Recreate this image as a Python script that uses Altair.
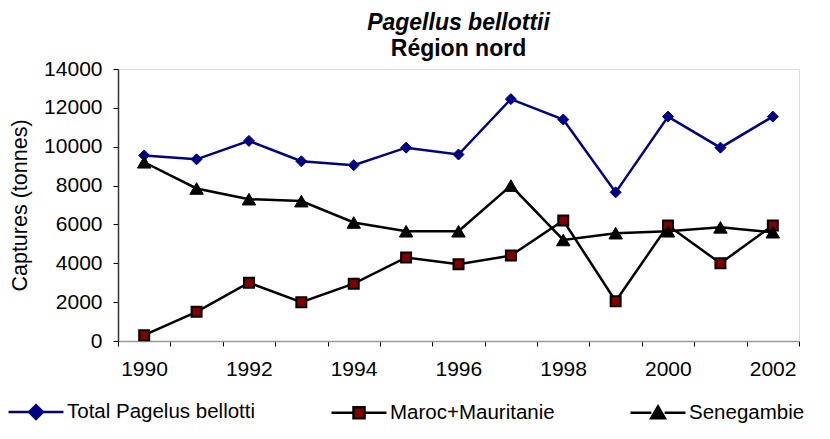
import altair as alt
import pandas as pd

years = list(range(1990, 2003))
series_names = ["Total Pagelus bellotti", "Maroc+Mauritanie", "Senegambie"]
total = [9550, 9350, 10300, 9250, 9050, 9950, 9600, 12450, 11400, 7650, 11550, 9950, 11550]
maroc = [300, 1500, 3000, 2000, 2950, 4300, 3950, 4400, 6200, 2050, 5950, 4000, 5950]
senegambie = [9200, 7850, 7300, 7200, 6100, 5650, 5650, 8000, 5200, 5550, 5650, 5850, 5600]
y_ticks = [0, 2000, 4000, 6000, 8000, 10000, 12000, 14000]
x_ticks = [y - 0.5 for y in range(1990, 2004)]

values = [total, maroc, senegambie]
rows = []
for name, vals in zip(series_names, values):
    for yr, v in zip(years, vals):
        rows.append({"year": yr, "value": v, "series": name})
df = pd.DataFrame(rows)

FONT = "Liberation Sans"
line_colors = ["#000080", "#000000", "#000000"]
fill_colors = ["#000080", "#800000", "#000000"]
stroke_colors = ["#000080", "#000000", "#000000"]
shapes = ["diamond", "square", "triangle-up"]
sizes = [121, 100, 180]
stroke_widths = [1, 2, 1]
legend_paths = [
    "M-1,0H-0.24M0.24,0H1M0,-0.25L0.25,0L0,0.25L-0.25,0Z",
    "M-1,0H-0.2M0.2,0H1M-0.2,-0.2H0.2V0.2H-0.2Z",
    "M-1,0H-0.24M0.24,0H1M0,-0.23L0.25,0.2L-0.25,0.2Z",
]

x_enc = alt.X(
    "year:Q",
    scale=alt.Scale(domain=[1989.5, 2002.5], nice=False, zero=False),
    axis=alt.Axis(
        values=x_ticks,
        labelExpr="(datum.value + 0.5) % 2 == 0 ? format(datum.value + 0.5, 'd') : ''",
        labelOffset=26,
        labelFlush=False,
        labelOverlap=False,
        labelBound=False,
        grid=False,
        title=None,
        tickSize=5,
        tickColor="#000000",
        domainColor="#999999",
        domainWidth=1.5,
        labelPadding=12,
        labelFontSize=21,
        labelFont=FONT,
        labelColor="#000000",
    ),
)
y_enc = alt.Y(
    "value:Q",
    scale=alt.Scale(domain=[0, 14000], nice=False),
    axis=alt.Axis(
        values=y_ticks,
        format="d",
        grid=False,
        title="Captures (tonnes)",
        titleFont=FONT,
        titleFontSize=21.5,
        titleFontWeight="normal",
        titleColor="#000000",
        titlePadding=12,
        tickSize=5,
        tickColor="#000000",
        domainColor="#333333",
        domainWidth=1.5,
        labelPadding=11,
        labelFontSize=21,
        labelFont=FONT,
        labelColor="#000000",
    ),
)

layers = []
for i, name in enumerate(series_names):
    base = alt.Chart(df).transform_filter(alt.datum.series == name)
    layers.append(
        base.mark_line(color=line_colors[i], strokeWidth=2.5).encode(x=x_enc, y=y_enc)
    )
    layers.append(
        base.mark_point(
            shape=shapes[i],
            filled=True,
            fill=fill_colors[i],
            stroke=stroke_colors[i],
            strokeWidth=stroke_widths[i],
            size=sizes[i],
            opacity=1,
        ).encode(x=x_enc, y=y_enc)
    )

legend = alt.Legend(
    title=None,
    orient="none",
    legendX=-111,
    legendY=314,
    direction="horizontal",
    columns=3,
    columnPadding=70,
    symbolSize=3025,
    symbolStrokeWidth=2.5,
    labelFont=FONT,
    labelFontSize=20.5,
    labelColor="#000000",
    labelOffset=2,
    labelLimit=400,
    padding=0,
    symbolOpacity=1,
)
legend_layer = (
    alt.Chart(df)
    .transform_filter("false")
    .mark_point(filled=True, opacity=1, strokeWidth=2.5)
    .encode(
        x=x_enc,
        y=y_enc,
        shape=alt.Shape("series:N", scale=alt.Scale(domain=series_names, range=legend_paths), legend=legend),
        fill=alt.Fill("series:N", scale=alt.Scale(domain=series_names, range=fill_colors), legend=legend),
        stroke=alt.Stroke("series:N", scale=alt.Scale(domain=series_names, range=line_colors), legend=legend),
    )
)
layers.append(legend_layer)

chart = (
    alt.layer(*layers)
    .properties(
        width=681,
        height=272,
        autosize=alt.AutoSizeParams(type="none"),
        padding={"left": 110, "top": 61, "right": 23, "bottom": 90},
        title=alt.TitleParams(
            text="Pagellus bellottii",
            subtitle="Région nord",
            font=FONT,
            fontSize=23,
            fontStyle="italic",
            fontWeight="bold",
            color="#000000",
            subtitleFont=FONT,
            subtitleFontSize=23,
            subtitleFontStyle="normal",
            subtitleFontWeight="bold",
            subtitleColor="#000000",
            subtitlePadding=3,
            anchor="middle",
            offset=-3,
        ),
    )
    .configure_view(stroke=None)
    .configure(background="#ffffff")
)

chart.save("out.html", embed_options={"renderer": "svg", "actions": False})
